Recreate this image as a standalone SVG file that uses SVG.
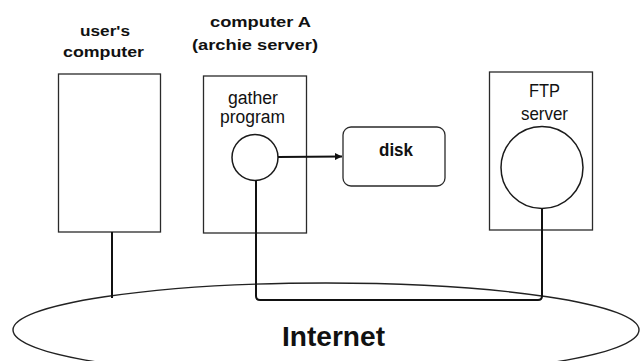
<svg xmlns="http://www.w3.org/2000/svg" width="641" height="361" viewBox="0 0 641 361">
  <style>
    .box { fill: #ffffff; stroke: #2a2a2a; stroke-width: 1.3; }
    .proc { fill: #ffffff; stroke: #1a1a1a; stroke-width: 1.5; }
    .wire { fill: none; stroke: #111111; stroke-width: 2; stroke-linejoin: round; }
    .title { font-family: "Liberation Sans", Arial, sans-serif; font-weight: bold; font-size: 15px; fill: #111111; }
    .label { font-family: "Liberation Sans", Arial, sans-serif; font-size: 19px; fill: #111111; }
    .big { font-family: "Liberation Sans", Arial, sans-serif; font-weight: bold; font-size: 28px; fill: #111111; }
  </style>
  <defs>
    <marker id="arrow" viewBox="0 0 10 10" refX="10" refY="5" markerWidth="7" markerHeight="7" markerUnits="userSpaceOnUse" orient="auto">
      <path d="M0,0 L10,5 L0,10 z" fill="#111111"/>
    </marker>
  </defs>

  <rect width="641" height="361" fill="#ffffff"/>

  <!-- network cloud -->
  <g id="internet">
    <ellipse cx="326" cy="330" rx="313" ry="47" fill="none" stroke="#222222" stroke-width="1.4"/>
    <text class="big" x="282" y="346" textLength="103" lengthAdjust="spacingAndGlyphs">Internet</text>
  </g>

  <!-- user's computer -->
  <g id="user-computer">
    <text class="title" x="80" y="36" textLength="50" lengthAdjust="spacingAndGlyphs">user's</text>
    <text class="title" x="63" y="57" textLength="81" lengthAdjust="spacingAndGlyphs">computer</text>
    <rect class="box" x="58.5" y="74" width="102" height="158"/>
  </g>

  <!-- computer A (archie server) -->
  <g id="archie-server">
    <text class="title" x="210" y="27" textLength="101" lengthAdjust="spacingAndGlyphs">computer A</text>
    <text class="title" x="192" y="50" textLength="126" lengthAdjust="spacingAndGlyphs">(archie server)</text>
    <rect class="box" x="203.5" y="76" width="103" height="157"/>
    <text class="label" style="font-size:18px" x="228" y="104" textLength="50" lengthAdjust="spacingAndGlyphs">gather</text>
    <text class="label" style="font-size:18px" x="220" y="123" textLength="65" lengthAdjust="spacingAndGlyphs">program</text>
  </g>
  <g id="gather-program">
    <circle class="proc" cx="255" cy="157.5" r="23"/>
  </g>

  <!-- disk -->
  <g id="disk">
    <rect class="box" x="343" y="127" width="102" height="59" rx="8" ry="8"/>
    <text class="title" style="font-size:18px" x="379" y="156" textLength="34" lengthAdjust="spacingAndGlyphs">disk</text>
  </g>

  <!-- FTP server -->
  <g id="ftp-server">
    <rect class="box" x="489.5" y="72" width="103" height="158"/>
    <text class="label" x="529" y="97" textLength="31" lengthAdjust="spacingAndGlyphs">FTP</text>
    <text class="label" x="521" y="120" textLength="47" lengthAdjust="spacingAndGlyphs">server</text>
    <circle class="proc" cx="542" cy="167.5" r="41"/>
  </g>

  <!-- connectors -->
  <g id="connectors">
    <line class="wire" x1="112" y1="232" x2="112" y2="298"/>
    <path class="wire" d="M256,180.5 V296 Q256,300 260,300 H538 Q542,300 542,296 V208.5"/>
    <line class="wire" x1="278" y1="157" x2="342" y2="156.5" marker-end="url(#arrow)"/>
  </g>
</svg>
